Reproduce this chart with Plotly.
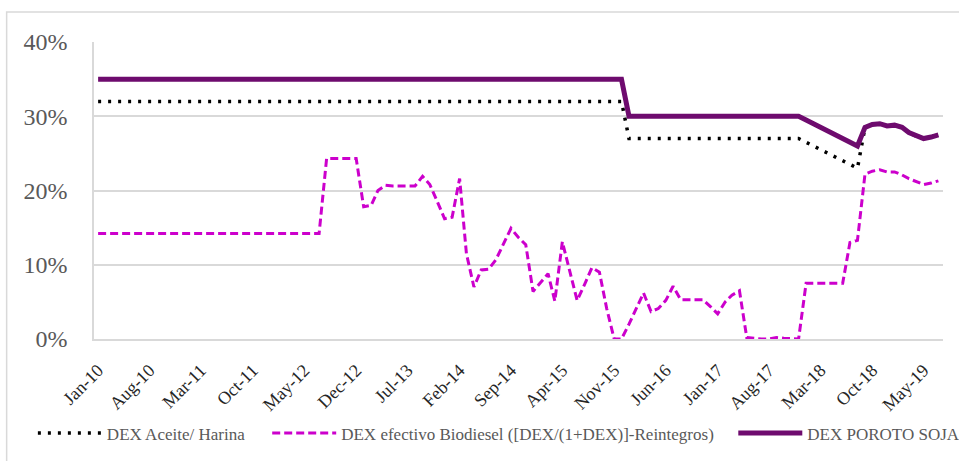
import pandas as pd
import plotly.graph_objects as go

# Monthly categories Jan-10 .. Jul-19
months = pd.date_range("2010-01-01", "2019-07-01", freq="MS")

tick_dates = ["2010-01-01", "2010-08-01", "2011-03-01", "2011-10-01", "2012-05-01",
              "2012-12-01", "2013-07-01", "2014-02-01", "2014-09-01", "2015-04-01",
              "2015-11-01", "2016-06-01", "2017-01-01", "2017-08-01", "2018-03-01",
              "2018-10-01", "2019-05-01"]
tick_labels = ["Jan-10", "Aug-10", "Mar-11", "Oct-11", "May-12", "Dec-12", "Jul-13",
               "Feb-14", "Sep-14", "Apr-15", "Nov-15", "Jun-16", "Jan-17", "Aug-17",
               "Mar-18", "Oct-18", "May-19"]
y_ticks = [0, 10, 20, 30, 40]
y_labels = ["0%", "10%", "20%", "30%", "40%"]

dex_aceite = [
    32, 32, 32, 32, 32, 32, 32, 32, 32, 32, 32, 32,          # 2010
    32, 32, 32, 32, 32, 32, 32, 32, 32, 32, 32, 32,          # 2011
    32, 32, 32, 32, 32, 32, 32, 32, 32, 32, 32, 32,          # 2012
    32, 32, 32, 32, 32, 32, 32, 32, 32, 32, 32, 32,          # 2013
    32, 32, 32, 32, 32, 32, 32, 32, 32, 32, 32, 32,          # 2014
    32, 32, 32, 32, 32, 32, 32, 32, 32, 32, 32, 32,          # 2015
    27, 27, 27, 27, 27, 27, 27, 27, 27, 27, 27, 27,          # 2016
    27, 27, 27, 27, 27, 27, 27, 27, 27, 27, 27, 27,          # 2017
    26.5, 26.0, 25.5, 25.0, 24.5, 24.0, 23.5, 23.0, 28.5, 28.9, 29.0, 28.7,  # 2018
    28.8, 28.5, 27.8, 27.3, 27.0, 27.2, 27.5,                # 2019
]

dex_biodiesel = [
    14.2, 14.2, 14.2, 14.2, 14.2, 14.2, 14.2, 14.2, 14.2, 14.2, 14.2, 14.2,  # 2010
    14.2, 14.2, 14.2, 14.2, 14.2, 14.2, 14.2, 14.2, 14.2, 14.2, 14.2, 14.2,  # 2011
    14.2, 14.2, 14.2, 14.2, 14.2, 14.2, 14.2, 24.3, 24.3, 24.3, 24.3, 24.3,  # 2012
    17.8, 18.0, 20.0, 20.7, 20.6, 20.6, 20.6, 20.6, 21.9, 20.8, 18.5, 16.2,  # 2013
    16.4, 21.6, 11.5, 7.0, 9.3, 9.4, 10.7, 12.8, 14.9, 13.7, 12.7, 6.4,      # 2014
    7.6, 8.8, 5.1, 13.1, 9.2, 5.2, 7.3, 9.6, 9.0, 4.1, 0.0, 0.0,             # 2015
    2.0, 4.1, 6.2, 3.7, 4.1, 5.2, 7.1, 5.3, 5.3, 5.4, 5.3, 4.4,              # 2016
    3.4, 5.0, 5.9, 6.5, 0.2, 0.1, 0.0, 0.0, 0.2, 0.1, 0.0, 0.0,              # 2017
    7.5, 7.5, 7.5, 7.5, 7.5, 7.5, 13.0, 13.3, 22.2, 22.6, 22.8, 22.5,        # 2018
    22.5, 22.1, 21.6, 21.2, 20.8, 21.0, 21.3,                                # 2019
]

dex_soja = [
    35, 35, 35, 35, 35, 35, 35, 35, 35, 35, 35, 35,          # 2010
    35, 35, 35, 35, 35, 35, 35, 35, 35, 35, 35, 35,          # 2011
    35, 35, 35, 35, 35, 35, 35, 35, 35, 35, 35, 35,          # 2012
    35, 35, 35, 35, 35, 35, 35, 35, 35, 35, 35, 35,          # 2013
    35, 35, 35, 35, 35, 35, 35, 35, 35, 35, 35, 35,          # 2014
    35, 35, 35, 35, 35, 35, 35, 35, 35, 35, 35, 35,          # 2015
    30, 30, 30, 30, 30, 30, 30, 30, 30, 30, 30, 30,          # 2016
    30, 30, 30, 30, 30, 30, 30, 30, 30, 30, 30, 30,          # 2017
    29.5, 29.0, 28.5, 28.0, 27.5, 27.0, 26.5, 26.0, 28.5, 28.9, 29.0, 28.7,  # 2018
    28.8, 28.5, 27.8, 27.3, 27.0, 27.2, 27.5,                # 2019
]

names = ["DEX Aceite/ Harina",
         "DEX efectivo Biodiesel ([DEX/(1+DEX)]-Reintegros)",
         "DEX POROTO SOJA"]

FONT = "Liberation Serif"
GRID = "#D9D9D9"

fig = go.Figure()
fig.add_trace(go.Scatter(x=months, y=dex_aceite, name=names[0], mode="lines",
                         legend="legend",
                         line=dict(color="#000000", width=3.5, dash="3px,7px")))
fig.add_trace(go.Scatter(x=months, y=dex_biodiesel, name=names[1], mode="lines",
                         legend="legend2",
                         line=dict(color="#CC00CC", width=3, dash="8px,4px")))
fig.add_trace(go.Scatter(x=months, y=dex_soja, name=names[2], mode="lines",
                         legend="legend3",
                         line=dict(color="#6E0B6E", width=5)))

leg_common = dict(orientation="h", y=-0.318, yanchor="middle", xanchor="left",
                  font=dict(family=FONT, size=17, color="#595959"),
                  itemwidth=64, bgcolor="rgba(0,0,0,0)")

fig.update_layout(
    width=959, height=461,
    margin=dict(l=94, r=16, t=42, b=122, autoexpand=False),
    paper_bgcolor="white", plot_bgcolor="white",
    font=dict(family=FONT, color="#595959"),
    showlegend=True,
    legend=dict(x=-0.072, **leg_common),
    legend2=dict(x=0.204, **leg_common),
    legend3=dict(x=0.753, **leg_common),
    xaxis=dict(
        type="date",
        range=["2009-12-15", "2019-07-20"],
        tickmode="array", tickvals=tick_dates, ticktext=tick_labels,
        tickangle=-45, ticks="", ticklabelstandoff=12,
        tickfont=dict(family=FONT, size=18, color="#262626"),
        showgrid=False, zeroline=False,
        showline=True, linecolor=GRID, linewidth=1.5,
    ),
    yaxis=dict(
        range=[0, 40], tickmode="array", tickvals=y_ticks, ticktext=y_labels,
        ticks="", ticklabelstandoff=20,
        tickfont=dict(family=FONT, size=24, color="#595959"),
        showgrid=True, gridcolor=GRID, gridwidth=1.5, zeroline=False,
        showline=True, linecolor=GRID, linewidth=1.5,
    ),
    shapes=[dict(type="rect", xref="paper", yref="paper",
                 x0=-0.1029, x1=1.2, y0=-0.6, y1=1.101,
                 line=dict(color=GRID, width=1.5), fillcolor="rgba(0,0,0,0)",
                 layer="below")],
)

fig.write_html("out.html")
